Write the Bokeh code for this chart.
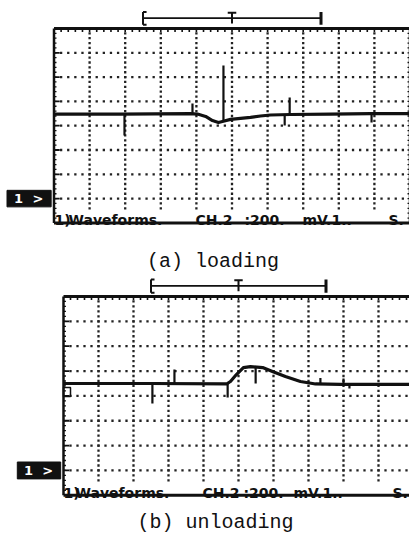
import numpy as np
from bokeh.plotting import figure
from bokeh.layouts import column
from bokeh.models import Range1d
from bokeh.core.properties import value
from bokeh.embed import file_html
from bokeh.resources import INLINE

# ---------------- data (screen divisions: x 0..10, y -4..4) ----------------
# (a) loading
a_trace_x = [0.0, 1.87, 3.83, 4.03, 4.26, 4.45, 4.62, 4.73, 4.96, 5.24, 5.52, 5.80, 6.08, 6.64, 7.77, 8.89, 10.0]
a_trace_y = [0.48, 0.48, 0.50, 0.48, 0.38, 0.21, 0.13, 0.17, 0.26, 0.30, 0.34, 0.40, 0.44, 0.46, 0.48, 0.50, 0.50]
a_spike_x = [1.98, 3.89, 4.76, 6.48, 6.62, 8.92]
a_spike_base = [0.48, 0.50, 0.17, 0.46, 0.46, 0.50]
a_spike_tip = [-0.40, 0.91, 2.48, 0.01, 1.16, 0.13]

# (b) unloading
b_trace_x = [0.0, 2.49, 4.66, 4.77, 4.94, 5.14, 5.34, 5.69, 5.97, 6.34, 6.77, 7.20, 7.91, 10.0]
b_trace_y = [0.50, 0.50, 0.48, 0.58, 0.86, 1.14, 1.18, 1.14, 0.98, 0.78, 0.58, 0.48, 0.46, 0.46]
b_spike_x = [2.54, 3.17, 4.69, 5.49, 7.34, 8.00, 8.17]
b_spike_base = [0.50, 0.50, 0.48, 1.16, 0.46, 0.46, 0.46]
b_spike_tip = [-0.31, 1.06, -0.06, 0.50, 0.72, 0.70, 0.30]

# time-window marker (divisions)
marker_left, marker_trig, marker_right = 2.5, 5.0, 7.5

status_tokens = ["1)", "Waveforms.", "CH.2", ":200.", "mV.1..", "S."]
captions = ["(a) loading", "(b) unloading"]

# ---------------- layout (picture pixels) ----------------
PAGE_LEFT, PAGE_RIGHT = 0, 409
panels = [
    dict(x0=53.5, dx=35.6, cy=125.2, dy=24.3, top=0, height=273,
         tok_px=[54, 68, 195, 244, 302, 388], cap_px=(212.5, 261),
         trace=(a_trace_x, a_trace_y), spikes=(a_spike_x, a_spike_base, a_spike_tip),
         caption=captions[0], gnd_box=False),
    dict(x0=63.0, dx=35.0, cy=395.4, dy=24.85, top=273, height=262,
         tok_px=[63, 75, 202, 243, 293, 392], cap_px=(215, 522),
         trace=(b_trace_x, b_trace_y), spikes=(b_spike_x, b_spike_base, b_spike_tip),
         caption=captions[1], gnd_box=True),
]

INK = "#111111"


def build(pn):
    x0, dx, cy, dy = pn["x0"], pn["dx"], pn["cy"], pn["dy"]
    top, h = pn["top"], pn["height"]
    p = figure(width=PAGE_RIGHT - PAGE_LEFT, height=h, output_backend="svg",
               toolbar_location=None, x_axis_type=None, y_axis_type=None,
               x_range=Range1d((PAGE_LEFT - x0) / dx, (PAGE_RIGHT - x0) / dx),
               y_range=Range1d((cy - (top + h)) / dy, (cy - top) / dy),
               min_border=0, outline_line_color=None,
               background_fill_color="white", border_fill_color="white")
    p.grid.visible = False

    # dotted graticule
    hx, hy = np.meshgrid(np.arange(0.2, 10.0, 0.2), np.arange(-3, 4, 1))
    p.scatter(hx.ravel(), hy.ravel(), marker="square", size=2.3, color="#222222", line_color=None)
    vx, vy = np.meshgrid(np.arange(1, 10, 1), np.arange(-3.4, 4.0, 0.2))
    p.scatter(vx.ravel(), vy.ravel(), marker="square", size=2.3, color="#222222", line_color=None)

    # screen border
    p.segment(x0=[0, 0, 0, 10], y0=[4, 4, -4, 4], x1=[10, 0, 10, 10], y1=[4, -4, -4, -4],
              line_color=INK, line_width=[3, 2.5, 3, 2.5])
    tx = np.arange(0.2, 10.0, 0.2)
    p.segment(x0=tx, y0=[4] * len(tx), x1=tx, y1=[3.86] * len(tx), line_color=INK, line_width=1.6)
    ly = np.arange(-3.8, 4.0, 0.2)
    p.segment(x0=[0] * len(ly), y0=ly, x1=[0.07] * len(ly), y1=ly, line_color=INK, line_width=1.3)
    p.segment(x0=[10] * len(ly), y0=ly, x1=[9.93] * len(ly), y1=ly, line_color=INK, line_width=1.3)
    my = np.arange(-3, 4, 1)
    p.segment(x0=[0] * len(my), y0=my, x1=[0.16] * len(my), y1=my, line_color=INK, line_width=1.8)

    # time window marker
    my_ = 4.43
    p.segment(x0=[marker_left], y0=[my_], x1=[marker_right], y1=[my_], line_color=INK, line_width=1.8)
    p.segment(x0=[marker_left, marker_right, marker_trig],
              y0=[my_ + 0.25, my_ + 0.25, my_ + 0.22],
              x1=[marker_left, marker_right, marker_trig],
              y1=[my_ - 0.28, my_ - 0.28, my_ - 0.22],
              line_color=INK, line_width=[2, 3, 2])
    p.segment(x0=[marker_left, marker_left, marker_trig - 0.12],
              y0=[my_ + 0.25, my_ - 0.28, my_ + 0.22],
              x1=[marker_left + 0.1, marker_left + 0.1, marker_trig + 0.12],
              y1=[my_ + 0.25, my_ - 0.28, my_ + 0.22],
              line_color=INK, line_width=2)

    # trace
    tx_, ty_ = pn["trace"]
    p.line(tx_, ty_, line_color=INK, line_width=3.2, line_join="round")
    sx, sb, st = pn["spikes"]
    p.segment(x0=sx, y0=sb, x1=sx, y1=st, line_color=INK, line_width=2.2)

    if pn["gnd_box"]:
        p.quad(left=[0.0], right=[0.2], bottom=[-0.02], top=[0.34],
               fill_color=None, line_color=INK, line_width=1.5)

    # channel marker box
    p.quad(left=[-1.32], right=[-0.08], bottom=[-3.34], top=[-2.66],
           fill_color=INK, line_color=INK)
    p.text(x=[-1.0, -0.45], y=[-3.0, -3.0], text=["1", ">"], text_color="white",
           text_font=value("DejaVu Sans"), text_font_style="bold", text_font_size="13px",
           text_align="center", text_baseline="middle")

    # status line
    tok_x = [(px - x0) / dx for px in pn["tok_px"]]
    p.text(x=tok_x, y=[-3.9] * len(tok_x), text=status_tokens, text_color=INK,
           text_font=value("DejaVu Sans"), text_font_style="bold", text_font_size="14px",
           text_align="left", text_baseline="alphabetic")

    # caption
    cx, cyp = pn["cap_px"]
    p.text(x=[(cx - x0) / dx], y=[(cy - cyp) / dy], text=[pn["caption"]], text_color=INK,
           text_font=value("Liberation Mono"), text_font_size="20px",
           text_align="center", text_baseline="alphabetic")
    return p


layout = column(*[build(pn) for pn in panels], spacing=0)
open("out.html", "w").write(file_html(layout, INLINE))
